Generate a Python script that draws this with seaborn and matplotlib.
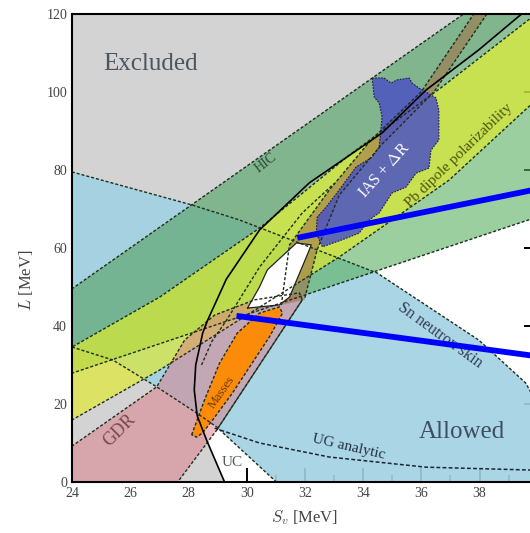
import matplotlib
matplotlib.use("Agg")
import matplotlib.pyplot as plt
from matplotlib.ticker import MultipleLocator
import seaborn as sns

sns.set_theme(style="ticks")
plt.rcParams["font.family"] = ["Liberation Serif", "DejaVu Serif"]
plt.rcParams["mathtext.fontset"] = "cm"

# ---- constraint regions in the (S_v, L) plane, both in MeV ----
# unitary-gas bound: everything to the left of this curve is excluded
ug_S = [29.30, 29.24, 28.62, 28.30, 28.20, 28.25, 28.49, 28.66, 29.30, 30.44, 32.15, 34.65, 36.16, 37.97, 39.60]
ug_L = [-3.0, 0.0, 10.8, 17.0, 23.6, 30.0, 38.2, 41.5, 52.0, 64.6, 76.7, 89.5, 100.5, 110.8, 121.0]

# inner contour running beside the upper branch
inner_S = [28.45, 28.80, 29.31, 30.44, 31.91, 33.00]
inner_L = [30.0, 36.0, 41.5, 55.1, 69.0, 76.5]

# Sn neutron skin
sn_up_S = [23.0, 24.0, 28.14, 29.75, 34.48, 37.97, 39.58, 40.60, 41.20, 41.30]
sn_up_L = [81.5, 79.5, 71.0, 67.2, 53.6, 36.4, 25.4, 12.0, 0.0, -3.0]
sn_lo_S = [23.0, 24.0, 25.40, 26.91, 28.28, 28.97, 31.02, 31.45]
sn_lo_L = [36.5, 34.6, 31.3, 24.4, 17.7, 14.1, 0.0, -3.0]

# heavy-ion collisions
hic_up_S = [23.0, 38.0]
hic_up_L = [44.3, 122.9]
ridge_S = [23.0, 24.0, 27.01, 30.44, 33.52, 36.71, 39.68, 40.20]
ridge_L = [30.0, 34.6, 47.4, 65.1, 83.8, 101.3, 118.5, 121.5]

# Pb dipole polarizability
pb_lo_S = [23.0, 24.0, 27.01, 33.18, 36.95, 39.68, 40.50]
pb_lo_L = [13.5, 15.9, 28.7, 57.7, 77.4, 96.2, 101.0]

# broad green band (lower edge; shares the ridge as upper edge)
gb_lo_S = [23.0, 24.0, 39.68, 40.50]
gb_lo_L = [25.4, 27.9, 67.2, 69.3]

# giant dipole resonances
gdr_S = [23.0, 24.0, 26.91, 27.87, 28.90, 30.27, 31.81, 31.91, 28.97, 27.60, 27.45, 23.0]
gdr_L = [4.0, 9.2, 24.4, 36.4, 42.8, 46.7, 48.5, 46.7, 13.3, -0.3, -3.0, -3.0]

# narrow tan band through the IAS region
tan_S = [31.19, 31.47, 32.84, 34.27, 35.99, 37.80, 38.25, 36.43, 34.62, 33.18, 32.42, 31.98]
tan_L = [45.4, 60.8, 74.9, 87.7, 100.0, 120.0, 120.0, 100.0, 86.4, 73.6, 59.5, 46.7]

# nuclear masses
mass_S = [28.11, 28.21, 28.55, 29.07, 29.68, 30.44, 31.12, 31.23, 30.78, 30.10, 29.51, 28.83, 28.49, 28.28]
mass_L = [12.1, 14.1, 21.0, 30.5, 38.2, 43.3, 44.9, 43.3, 37.2, 29.5, 22.8, 15.9, 12.6, 11.5]

# isobaric analog states + neutron skins
ias_S = [34.31, 34.72, 34.96, 35.16, 35.58, 35.68, 35.92, 36.16, 36.50, 36.60, 36.60, 36.33, 36.26,
         35.82, 35.47, 34.99, 34.55, 34.21, 33.86, 33.28, 32.60, 32.39, 32.42, 32.73, 33.18, 33.76,
         34.31, 34.55, 34.65, 34.55, 34.38]
ias_L = [103.6, 103.6, 102.3, 103.1, 103.6, 102.3, 101.0, 100.0, 98.5, 95.4, 87.7, 85.1, 80.5,
         79.2, 75.6, 74.1, 69.0, 67.2, 63.8, 62.1, 60.3, 63.8, 67.9, 70.5, 74.9, 80.8,
         83.3, 85.9, 93.6, 97.2, 98.7]

# common overlap of the experimental constraints
core_S = [30.03, 30.44, 30.71, 31.71, 32.22, 32.05, 31.47, 31.12]
core_L = [44.6, 50.0, 54.4, 61.3, 60.8, 57.7, 47.4, 45.4]

# unitary-gas analytic estimate
uga_S = [28.90, 30.44, 32.84, 36.16, 39.58, 40.50]
uga_L = [13.8, 10.0, 6.4, 3.8, 3.1, 2.9]

# pointer lines from the overlap region
ptr1_S = [31.74, 40.71]
ptr1_L = [62.6, 76.2]
ptr2_S = [29.65, 40.71]
ptr2_L = [42.6, 31.5]

x_ticks = [24, 26, 28, 30, 32, 34, 36, 38]
y_ticks = [0, 20, 40, 60, 80, 100, 120]


def band(up_S, up_L, lo_S, lo_L):
    return list(up_S) + list(lo_S)[::-1], list(up_L) + list(lo_L)[::-1]


fig = plt.figure(figsize=(5.30, 5.33), dpi=100)
ax = fig.add_axes([0.1358, 0.0957, 0.879, 0.878])
ax.set_xlim(24, 40)
ax.set_ylim(0, 120)
ax.set_facecolor("white")

# excluded region (left of the unitary-gas bound)
ex_S = ug_S + [39.6, 23.0, 23.0]
ex_L = ug_L + [126.0, 126.0, -3.0]
ax.fill(ex_S, ex_L, color="#d3d3d3", lw=0, zorder=1)

dash = dict(color="#1c2e1c", lw=1.0, ls=(0, (2.2, 1.4)), zorder=8)

# Sn neutron skin
s, l = band(sn_up_S, sn_up_L, sn_lo_S, sn_lo_L)
ax.fill(s, l, color="#a1d1e3", alpha=0.9, lw=0, zorder=2)

# broad green band
s, l = band(ridge_S, ridge_L, gb_lo_S, gb_lo_L)
ax.fill(s, l, color="#5aaf5f", alpha=0.6, lw=0, zorder=3)

# HIC
s, l = band(hic_up_S, hic_up_L, ridge_S, ridge_L)
ax.fill(s, l, color="#62aa74", alpha=0.72, lw=0, zorder=3)

# Pb dipole polarizability
s, l = band(ridge_S, ridge_L, pb_lo_S, pb_lo_L)
ax.fill(s, l, color="#e1eb28", alpha=0.65, lw=0, zorder=4)

# GDR
ax.fill(gdr_S, gdr_L, color="#dc7a86", alpha=0.5, lw=0, zorder=4)

# narrow tan band
ax.fill(tan_S, tan_L, color="#a07448", alpha=0.6, lw=0, zorder=5)

# masses
ax.fill(mass_S, mass_L, color="#ff8a00", alpha=0.95, lw=0, zorder=6)
ax.plot(mass_S + mass_S[:1], mass_L + mass_L[:1], **dash)

# IAS + dR
ax.fill(ias_S, ias_L, color="#4c52c4", alpha=0.85, lw=0, zorder=6)
ax.plot(ias_S + ias_S[:1], ias_L + ias_L[:1], color="#1c1c3c", lw=0.8, ls=(0, (1.5, 1.2)), zorder=8)

# common overlap
ax.fill(core_S, core_L, color="white", lw=0, zorder=7)
ax.plot(core_S + core_S[:1], core_L + core_L[:1], color="#222222", lw=0.9, zorder=8)

# band boundaries
for bs, bl in [(sn_up_S, sn_up_L), (sn_lo_S, sn_lo_L), (hic_up_S, hic_up_L), (ridge_S, ridge_L),
               (pb_lo_S, pb_lo_L), (gb_lo_S, gb_lo_L), (tan_S, tan_L), (inner_S, inner_L)]:
    ax.plot(bs, bl, **dash)
ax.plot(gdr_S[:9], gdr_L[:9], **dash)
ax.plot(gdr_S[7:11], gdr_L[7:11], **dash)

# unitary gas bound and analytic estimate
sns.lineplot(x=ug_S, y=ug_L, sort=False, estimator=None, ax=ax, color="black", lw=1.2, zorder=9)
sns.lineplot(x=uga_S, y=uga_L, sort=False, estimator=None, ax=ax, color="#1c2430", lw=1.1,
             linestyle=(0, (2.5, 1.5)), zorder=9)

# pointer lines
ax.plot(ptr1_S, ptr1_L, color="#0000ff", lw=4.2, solid_capstyle="butt", zorder=12, clip_on=False)
ax.plot(ptr2_S, ptr2_L, color="#0000ff", lw=4.2, solid_capstyle="butt", zorder=12, clip_on=False)

# labels
ax.text(26.71, 107.2, "Excluded", fontsize=18, color="#4a5560", ha="center", va="center", zorder=10)
ax.text(37.39, 12.8, "Allowed", fontsize=18, color="#3e4e60", ha="center", va="center", zorder=10)
ax.text(30.64, 81.8, "HIC", fontsize=10, color="#2e4a34", rotation=38, ha="center", va="center", zorder=10)
ax.text(37.29, 83.8, "Pb dipole polarizability", fontsize=11, color="#4e5210", rotation=44,
        ha="center", va="center", zorder=10)
ax.text(36.64, 37.7, "Sn neutron skin", fontsize=11.5, color="#2c3c50", rotation=-36,
        ha="center", va="center", zorder=10)
ax.text(34.72, 80.0, "IAS + $\\Delta$R", fontsize=11.5, color="white", rotation=48,
        ha="center", va="center", zorder=10)
ax.text(29.14, 23.1, "Masses", fontsize=9, color="#6a3a00", rotation=55, ha="center", va="center", zorder=10)
ax.text(25.64, 13.3, "GDR", fontsize=13, color="#7a4a52", rotation=45, ha="center", va="center", zorder=10)
ax.text(29.51, 4.9, "UC", fontsize=11, color="#505860", ha="center", va="center", zorder=10)
ax.text(33.52, 9.0, "UG analytic", fontsize=11, color="#203040", rotation=-13, ha="center", va="center", zorder=10)

# axes styling
ax.set_xticks(x_ticks)
ax.set_yticks(y_ticks)
ax.xaxis.set_minor_locator(MultipleLocator(1))
ax.yaxis.set_minor_locator(MultipleLocator(5))
ax.tick_params(which="major", direction="in", top=True, right=True, length=10, width=1.4,
               labelsize=10, labelcolor="#444444", color="black")
ax.tick_params(which="minor", direction="in", top=True, right=True, length=5, width=1.2, color="black")
for sp in ax.spines.values():
    sp.set_linewidth(1.5)
    sp.set_color("black")
    sp.set_zorder(20)
ax.set_xlabel(r"$S_v$ [MeV]", fontsize=12, color="#444444", labelpad=6)
ax.set_ylabel(r"$L$ [MeV]", fontsize=12, color="#444444")
ax.yaxis.set_label_coords(-0.079, 0.43)

fig.savefig("out.png", dpi=100)
